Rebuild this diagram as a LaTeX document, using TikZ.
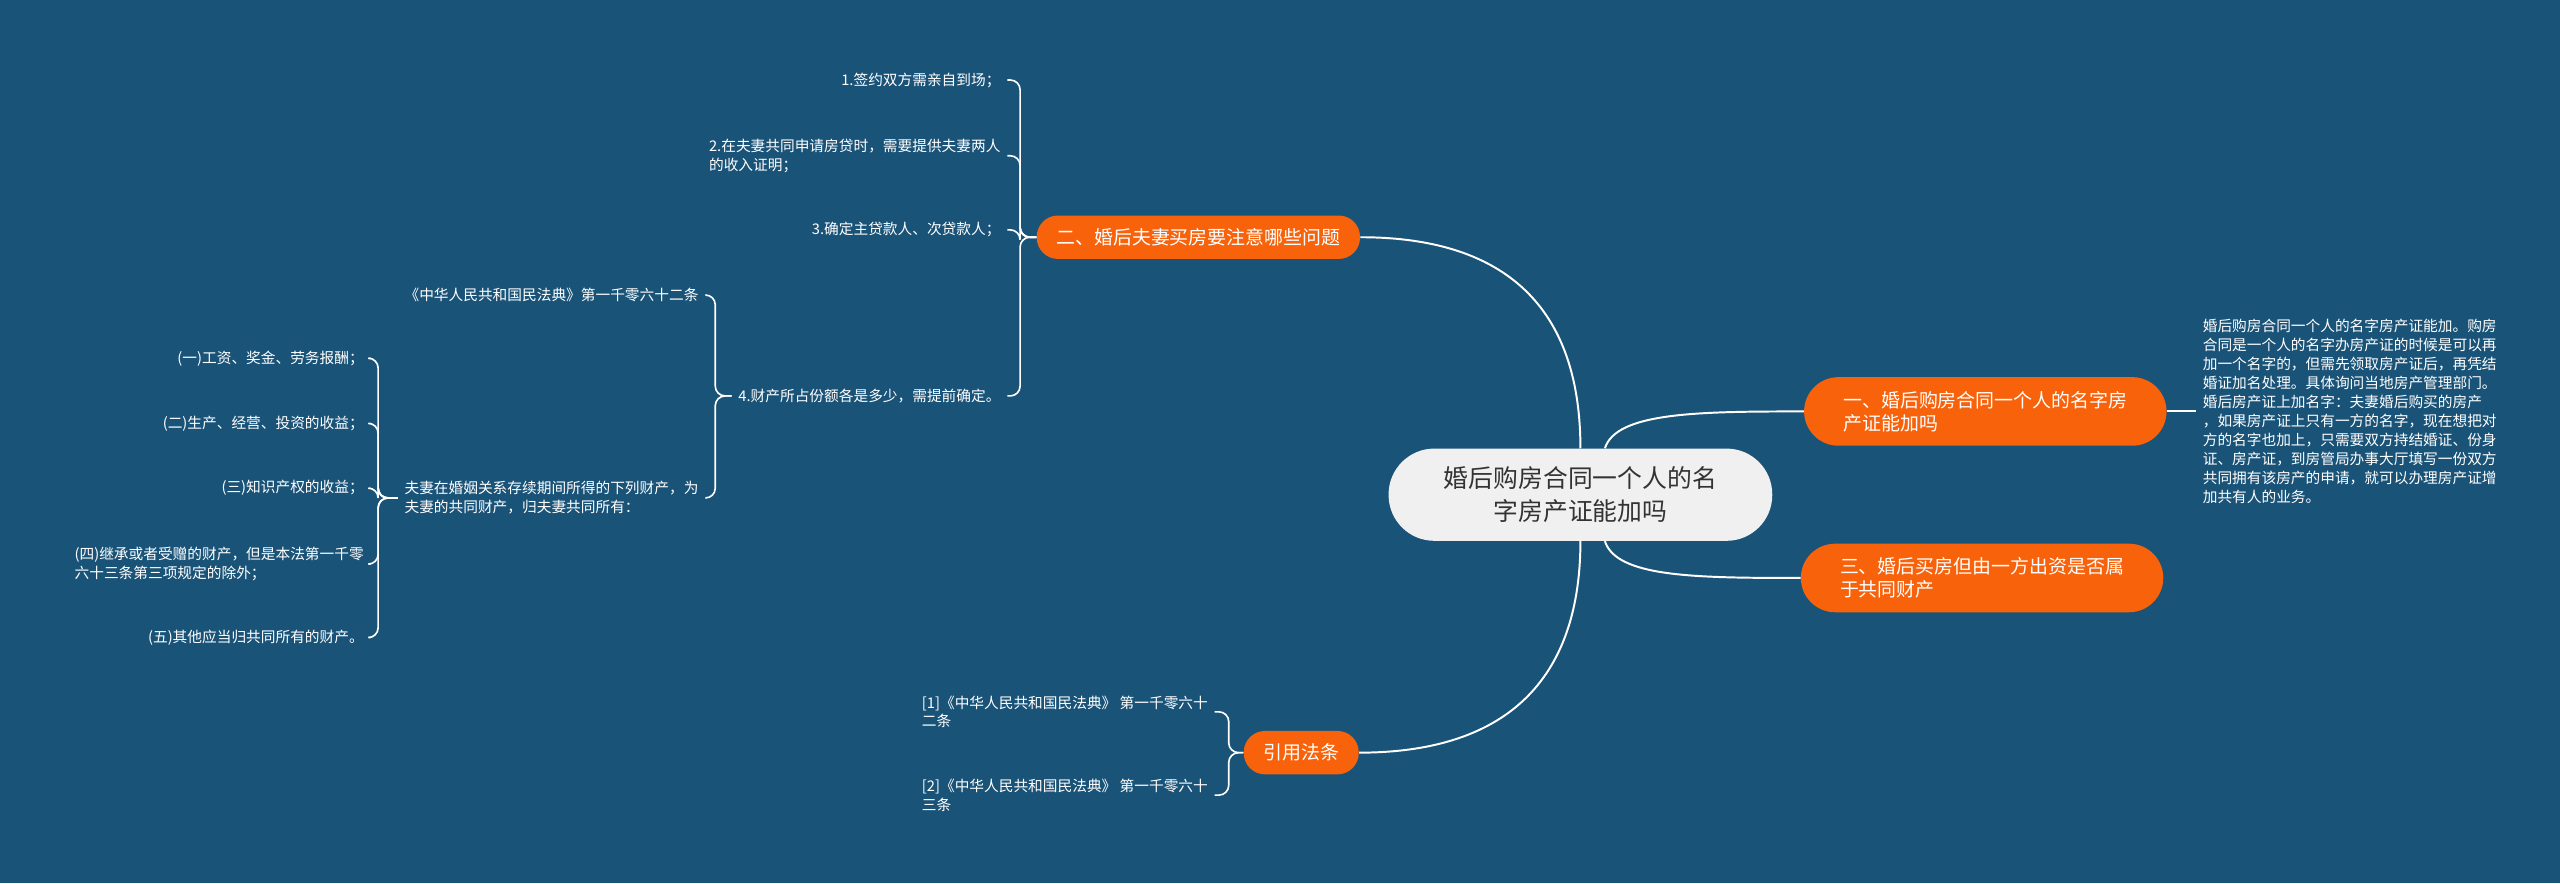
\documentclass[tikz,border=0pt]{standalone}
\usepackage{fontspec}
\newfontfamily\cjk{Noto Sans CJK SC}
\usetikzlibrary{calc}
\definecolor{boardblue}{HTML}{1A5378}
\definecolor{topicorange}{HTML}{F7620B}
\definecolor{rootgray}{HTML}{F0F0F0}
\definecolor{rootink}{HTML}{333333}

\begin{document}
\begin{tikzpicture}[
  x=1pt,y=-1pt,
  root/.style={fill=rootgray, text=rootink, rounded corners=28pt, minimum width=235pt, minimum height=56.5pt, align=center, inner sep=0pt, font=\cjk\fontsize{15.2}{20}\selectfont},
  topic/.style={fill=topicorange, text=white, rounded corners=13pt, minimum height=26.6pt, inner xsep=12pt, inner ysep=0pt, font=\cjk\fontsize{11.6}{14}\selectfont},
  topictwo/.style={topic, rounded corners=21pt, minimum height=42pt, minimum width=222pt, align=left},
  leaf/.style={text=white, align=left, inner xsep=4pt, inner ysep=2pt, font=\cjk\fontsize{9}{11.6}\selectfont},
  link/.style={draw=white, line width=1.2pt},
  brk/.style={draw=white, line width=1pt, rounded corners=6pt}
]
\fill[boardblue] (0,0) rectangle (1568,541);
\useasboundingbox (0,0) rectangle (1568,541);

% main topics
\node[root] (ctr) at (968,303) {婚后购房合同一个人的名\\字房产证能加吗};
\node[topictwo] (n1) at (1216,252) {一、婚后购房合同一个人的名字房\\产证能加吗};
\node[topic] (n2) at (734,145.3) {二、婚后夫妻买房要注意哪些问题};
\node[topictwo] (n3) at (1214,354) {三、婚后买房但由一方出资是否属\\于共同财产};
\node[topic] (n4) at (797,461) {引用法条};

% right leaf
\node[leaf, anchor=west] (r1) at (1345,252) {婚后购房合同一个人的名字房产证能加。购房\\合同是一个人的名字办房产证的时候是可以再\\加一个名字的，但需先领取房产证后，再凭结\\婚证加名处理。具体询问当地房产管理部门。\\婚后房产证上加名字：夫妻婚后购买的房产\\，如果房产证上只有一方的名字，现在想把对\\方的名字也加上，只需要双方持结婚证、份身\\证、房产证，到房管局办事大厅填写一份双方\\共同拥有该房产的申请，就可以办理房产证增\\加共有人的业务。};

% left leaves of n2
\node[leaf, anchor=east] (a1) at (617,49) {1.签约双方需亲自到场；};
\node[leaf, anchor=east] (a2) at (617,95.4) {2.在夫妻共同申请房贷时，需要提供夫妻两人\\的收入证明；};
\node[leaf, anchor=east] (a3) at (617,140.8) {3.确定主贷款人、次贷款人；};
\node[leaf, anchor=east] (a4) at (617,242.5) {4.财产所占份额各是多少，需提前确定。};

\node[leaf, anchor=east] (b1) at (432,180.7) {《中华人民共和国民法典》第一千零六十二条};
\node[leaf, anchor=east] (b2) at (432,305) {夫妻在婚姻关系存续期间所得的下列财产，为\\夫妻的共同财产，归夫妻共同所有：};

\node[leaf, anchor=east] (c1) at (227,219.4) {(一)工资、奖金、劳务报酬；};
\node[leaf, anchor=east] (c2) at (227,259.3) {(二)生产、经营、投资的收益；};
\node[leaf, anchor=east] (c3) at (227,299) {(三)知识产权的收益；};
\node[leaf, anchor=east] (c4) at (227,345.5) {(四)继承或者受赠的财产，但是本法第一千零\\六十三条第三项规定的除外；};
\node[leaf, anchor=east] (c5) at (227,390.5) {(五)其他应当归共同所有的财产。};

\node[leaf, anchor=east] (d1) at (744,436) {[1]《中华人民共和国民法典》 第一千零六十\\二条};
\node[leaf, anchor=east] (d2) at (744,487) {[2]《中华人民共和国民法典》 第一千零六十\\三条};

% curves from the root
\draw[link] (ctr.north) .. controls +(0,-75) and +(100,0) .. (n2.east);
\draw[link] (ctr.south) .. controls +(0,75) and +(100,0) .. (n4.east);
\draw[link] ([xshift=15pt]ctr.north) .. controls +(7,-22) and +(-65,0) .. (n1.west);
\draw[link] ([xshift=15pt]ctr.south) .. controls +(7,22) and +(-65,0) .. (n3.west);
\draw[link] (n1.east) -- (r1.west);

% brackets
\foreach \c in {a1,a2,a3,a4} \draw[brk] (n2.west) -- ++(-10,0) |- (\c.east);
\foreach \c in {b1,b2} \draw[brk] (a4.west) -- ++(-10,0) |- (\c.east);
\foreach \c in {c1,c2,c3,c4,c5} \draw[brk] (b2.west) -- ++(-12,0) |- (\c.east);
\foreach \c in {d1,d2} \draw[brk] (n4.west) -- ++(-9,0) |- (\c.east);
\end{tikzpicture}
\end{document}
